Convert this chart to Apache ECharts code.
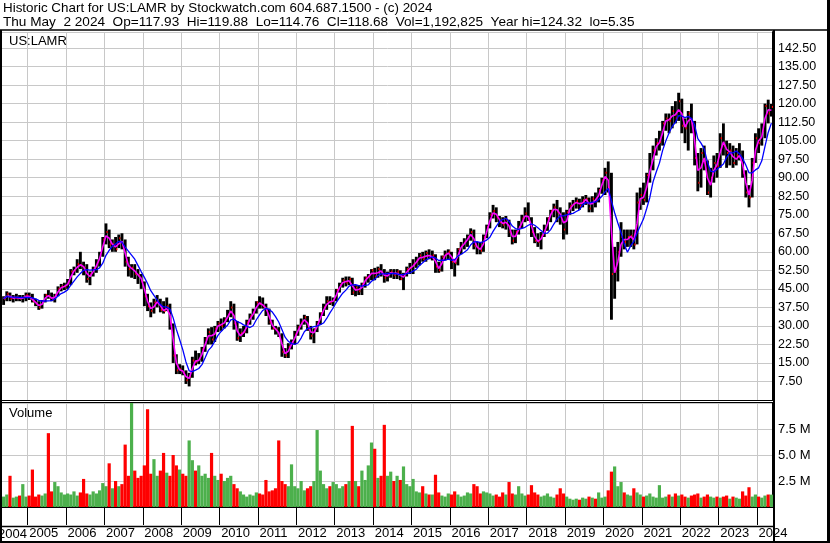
<!DOCTYPE html>
<html>
<head>
<meta charset="utf-8">
<script src="https://cdn.jsdelivr.net/npm/echarts@6/dist/echarts.min.js"></script>
<style>html,body{margin:0;padding:0;background:#fff}#c{width:830px;height:543px}</style>
</head>
<body>
<div id="c"></div>
<script>
// Monthly bars, May 2004 .. May 2024
var startYear = 2004, startMonth = 5;

var low = [
  38.5, 40, 40, 39.5, 40, 40, 39.5, 40,
  40.5, 39.5, 38, 36.5, 37, 39.5, 41, 40, 39.5, 42, 44, 44.5,
  45, 46.5, 50.5, 51.5, 53, 50.5, 47.5, 46.5, 50, 51.5, 54, 58,
  63, 61.5, 60, 60, 61.5, 61, 54, 50, 49.5, 49, 47, 45,
  38, 36, 33.5, 35, 37.5, 35.5, 35, 36, 28.5, 15, 10.5, 10.5,
  10, 6.5, 5.5, 9, 14, 14.5, 15.5, 19.5, 22.5, 22.5, 23.5, 27.5,
  28, 29, 31.5, 33.5, 28.5, 24, 23.5, 25.5, 27, 30.5, 32.5, 35,
  37, 37, 34, 30.5, 28.5, 26.5, 25.5, 17.5, 17, 17, 20.5, 22.5,
  26, 28.5, 30.5, 28, 24.5, 23, 27.5, 30.5, 34, 36.5, 38.5, 38,
  40, 43.5, 45.5, 46, 46.5, 42.5, 42, 42.5, 42.5, 45.5, 47.5, 48.5,
  48.5, 49.5, 50, 47.5, 48, 49.5, 49, 49, 48.5, 44.5, 50, 51,
  51, 53.5, 54.5, 56, 56, 57, 56.5, 51.5, 51.5, 52, 56.5, 57,
  53, 50, 54.5, 59, 61, 62, 64.5, 61, 59, 59, 60, 65.5,
  69.5, 73.5, 72, 70, 69.5, 69, 66, 63, 63.5, 67, 69.5, 72,
  72.5, 66, 63.5, 62, 61, 66, 68.5, 72, 74, 72, 71, 65,
  67, 75, 76.5, 77.5, 77, 78, 79, 76, 76, 78, 80, 83.5,
  83, 84, 32.5, 41, 48, 58, 61, 62, 62, 61, 63, 77,
  79, 80, 88, 93, 99, 101, 103, 109, 108, 110, 112, 113,
  108, 104, 101, 108, 95, 84.5, 86, 93, 83, 82, 88, 90,
  94, 99, 94, 95, 94, 95, 97, 90, 82, 78, 82, 96,
  100, 103, 106, 112, 114.76
];

var high = [
  42, 44, 43.5, 42.5, 43, 42.5, 42.5, 43.5,
  43.5, 43, 41, 40, 40.5, 43, 44.5, 43.5, 43, 46, 47, 47.5,
  49, 53, 54, 57, 60, 56, 55, 52, 54, 57, 60, 66,
  71.5, 69, 65, 66, 67, 67.5, 65, 58, 55, 55, 53, 51,
  48, 43, 39.5, 41, 42.5, 41, 40, 41.5, 39, 31, 18.5, 14.5,
  14, 12, 11, 17.5, 20, 19, 21.5, 25.5, 29, 29.5, 30, 32,
  33, 33.5, 36.5, 40, 39, 32, 29, 30, 32.5, 35, 37, 40,
  42, 41.5, 39, 37, 32.5, 30, 29.5, 27, 21, 23, 24.5, 28,
  30.5, 33, 34.5, 34, 30, 29, 32, 35.5, 39, 42, 42, 41.5,
  45, 47.5, 49.5, 50, 50, 49.5, 46.5, 46.5, 47.5, 50, 51, 53,
  53.5, 54, 55, 53, 52, 53, 53, 53, 52.5, 51.5, 54, 55.5,
  57, 58, 59.5, 60, 60.5, 61, 60.5, 59, 56, 58.5, 60.5, 61,
  60, 57, 61.5, 64, 65.5, 67, 69.5, 69, 64, 64, 67, 71,
  76, 79, 78, 74.5, 74, 74.5, 73, 69, 69, 72.5, 75, 78,
  80, 74, 70, 67.5, 68, 71, 74, 77, 79.5, 81, 78, 76,
  77, 80, 81, 82, 81.5, 82.5, 83, 82, 82.5, 84, 86, 90,
  94, 96.6, 92, 62, 64, 72, 69, 69, 69, 69, 84, 86,
  88, 92, 100, 103, 106, 109, 113, 116, 116, 119, 121, 124.4,
  122, 114, 117, 120, 113, 100, 102, 103, 97, 94, 99, 100,
  108, 112, 105, 104, 103, 102, 104, 101, 93, 87, 98, 108,
  110, 112, 120, 121.6, 119.88
];

var close = [
  41, 43, 41, 41.5, 41.5, 41, 41.5, 42.5,
  41.5, 40, 39, 37.5, 40, 42.5, 42, 40.5, 42.5, 45, 46, 46,
  47.5, 52, 52.5, 55, 54.5, 53.5, 49, 51, 53, 55.5, 59, 65,
  68, 63, 63, 61, 65.5, 63, 56, 53, 53.5, 51, 50.5, 48,
  42, 38, 36, 39.5, 40, 36.5, 36, 38, 31, 18, 12, 12.5,
  11, 8, 9.5, 16, 15.5, 16.5, 20.5, 24.5, 27.5, 24.5, 29, 31,
  30, 32.5, 34.5, 37.5, 31, 25, 27, 27.5, 31.5, 34, 35.5, 39.5,
  39, 38, 36.5, 31.5, 29, 28.5, 26, 19.5, 18, 21.5, 23.5, 26.5,
  29.5, 31.5, 33.5, 29, 26, 28.5, 31, 35, 37.5, 40, 39.5, 40.5,
  44.5, 46.5, 48.5, 47.5, 49, 43.5, 45.5, 44, 47, 49.5, 50, 52.5,
  50, 53, 51.5, 49.5, 51, 52, 50.5, 52, 49, 50.5, 53, 53.5,
  55, 56.5, 58.5, 57, 59.5, 57.5, 58.5, 54, 52.5, 58, 59, 60,
  56, 55.5, 61, 62.5, 64, 66, 68, 62.5, 61.5, 60.5, 66, 70,
  75, 76.5, 74, 72, 71, 73, 68, 64.5, 68, 70, 73.5, 75.5,
  73, 68, 64.5, 64, 66.5, 69, 73.5, 76.5, 78, 76, 74.5, 69,
  76, 78.5, 79.5, 80.5, 78.5, 81, 81.5, 77.5, 81.5, 80.5, 85, 89,
  92, 86, 51, 52, 60, 66, 64, 66, 66.5, 63, 80, 83,
  81, 91, 94, 101, 104, 104.5, 112, 114, 113, 117, 114, 121,
  111, 110, 116, 112, 98, 88, 100, 96, 84, 90, 96, 94.5,
  106, 103, 100, 101, 96, 99, 99, 92, 84, 82, 96, 106,
  104, 109, 119, 116, 118.68
];

// volume, millions of shares
var volume = [
  1.0, 1.2, 3.0, 0.9, 1.0, 1.1, 2.2, 1.0,
  1.1, 3.6, 1.0, 1.2, 1.1, 1.3, 7.1, 1.5, 2.4, 2.0, 1.4, 1.2,
  1.3, 1.2, 1.5, 1.1, 1.4, 2.7, 1.3, 1.2, 1.5, 1.3, 1.6, 2.3,
  2.0, 4.2, 1.8, 2.5, 2.0, 2.2, 6.0, 3.0, 10.0, 3.5, 2.8, 3.0,
  4.0, 9.4, 3.2, 4.6, 3.0, 3.5, 5.2, 3.3, 3.0, 5.0, 4.0, 3.6,
  3.2, 3.0, 6.4, 4.5, 3.5, 4.0, 3.0, 3.2, 2.8, 5.2, 3.0, 2.6,
  3.2, 2.5, 2.8, 3.0, 2.2, 1.8, 1.5, 1.2, 1.0, 1.2, 1.1, 1.4,
  1.3, 1.2, 2.6, 1.5, 1.6, 1.8, 6.4, 2.5, 2.2, 2.0, 4.1, 2.0,
  1.8, 2.5, 1.6, 1.8, 2.0, 2.5, 7.4, 3.5, 2.2, 1.8, 2.0, 2.4,
  2.2, 1.8, 2.0, 2.2, 2.5, 7.8, 2.5, 2.0, 3.5, 2.6, 4.0, 6.2,
  5.6, 2.8, 3.0, 7.9, 3.0, 3.4, 2.5, 3.0, 2.6, 3.9, 2.2, 2.0,
  2.7, 1.5, 1.4, 2.0, 1.3, 1.2, 1.2, 3.1, 1.4, 1.1, 1.0, 1.3,
  1.2, 1.5, 1.2, 1.0, 1.1, 1.4, 1.3, 2.2, 2.0, 1.3, 1.5, 1.4,
  1.3, 1.1, 1.2, 1.0, 1.4, 1.2, 2.4, 1.3, 1.2, 2.0, 1.3, 1.1,
  1.2, 2.1, 1.4, 1.2, 1.0, 1.1, 1.3, 1.0, 0.9, 1.2, 1.8, 1.3,
  1.0, 0.8, 0.7, 0.8, 0.7, 0.9, 0.8, 1.0, 0.9, 0.8, 1.4, 0.9,
  1.0, 1.6, 3.4, 3.9, 2.0, 2.4, 1.4, 1.2, 1.1, 1.8, 1.4, 1.2,
  1.0, 1.1, 1.3, 1.0, 0.9, 2.1, 0.9, 1.0, 1.2, 1.0, 1.3, 1.1,
  1.2, 1.0, 0.9, 1.1, 1.2, 1.3, 0.9, 1.0, 1.2, 1.0, 0.9, 1.0,
  0.9, 1.0, 1.1, 0.8, 1.0, 0.9, 0.8, 1.5, 1.1, 1.9, 1.0, 1.2,
  1.0, 0.9, 1.1, 1.2, 1.19
];

var headerLine1 = 'Historic Chart for US:LAMR by Stockwatch.com 604.687.1500 - (c) 2024';
var headerLine2 = 'Thu May  2 2024  Op=117.93  Hi=119.88  Lo=114.76  Cl=118.68  Vol=1,192,825  Year hi=124.32  lo=5.35';
var symbolLabel = 'US:LAMR';
var volumeLabel = 'Volume';
var firstYearLabel = '2004';

// ---- build ----
var months = [];
for (var i = 0; i < close.length; i++) {
  var m = startMonth - 1 + i;
  var mm = (m % 12) + 1;
  months.push((startYear + Math.floor(m / 12)) + '-' + (mm < 10 ? '0' + mm : '' + mm));
}
function isJan(idx) { return months[idx] && months[idx].slice(5) === '01'; }

function sma(n) {
  var out = [];
  for (var i = 0; i < close.length; i++) {
    var s = 0, c = 0;
    for (var k = Math.max(0, i - n + 1); k <= i; k++) { s += close[k]; c++; }
    out.push(+(s / c).toFixed(3));
  }
  return out;
}
var maFast = sma(2), maSlow = sma(6);

var bars = [];
for (var i = 0; i < close.length; i++) bars.push([i, low[i], high[i], close[i]]);

var volData = [];
for (var i = 0; i < volume.length; i++) {
  var up = i === 0 ? true : close[i] >= close[i - 1];
  volData.push({ value: volume[i], itemStyle: { color: up ? '#4cb04c' : '#ff0000' } });
}

var FONT = '"Liberation Sans", Arial, sans-serif';
var GRID = '#c8c8c8';

var chart = echarts.init(document.getElementById('c'), null, { renderer: 'canvas', width: 830, height: 543 });

var option = {
  animation: false,
  backgroundColor: '#ffffff',
  grid: [
    { left: 2, top: 32, width: 771, height: 368, outerBoundsMode: 'none', containLabel: false },
    { left: 2, top: 403, width: 771, height: 104, outerBoundsMode: 'none', containLabel: false }
  ],
  xAxis: [
    {
      type: 'category', gridIndex: 0, data: months, boundaryGap: true,
      axisLine: { show: false }, axisTick: { show: false }, axisLabel: { show: false },
      splitLine: { show: true, interval: function (i) { return isJan(i); }, lineStyle: { color: GRID, width: 1 } }
    },
    {
      type: 'category', gridIndex: 1, data: months, boundaryGap: true,
      axisLine: { show: true, onZero: false, lineStyle: { color: '#000', width: 2 } },
      axisTick: { show: true, interval: function (i) { return isJan(i); }, length: 18, lineStyle: { color: '#000', width: 1 } },
      axisLabel: {
        show: true, interval: function (i) { return isJan(i); },
        formatter: function (v) { return v.slice(0, 4); },
        align: 'left', margin: 20, color: '#000', fontSize: 13, fontFamily: FONT
      },
      splitLine: { show: true, interval: function (i) { return isJan(i); }, lineStyle: { color: GRID, width: 1 } }
    }
  ],
  yAxis: [
    {
      type: 'value', gridIndex: 0, position: 'right', min: 0, max: 149, interval: 7.5,
      axisLine: { show: true, lineStyle: { color: '#000', width: 2 } },
      axisTick: { show: false },
      axisLabel: {
        formatter: function (v) { return v.toFixed(2); }, color: '#000', fontSize: 12.5, fontFamily: FONT,
        margin: 5, showMinLabel: false, showMaxLabel: false
      },
      splitLine: { show: true, lineStyle: { color: GRID, width: 1 } }
    },
    {
      type: 'value', gridIndex: 1, position: 'right', min: 0, max: 10, interval: 2.5,
      axisLine: { show: true, lineStyle: { color: '#000', width: 2 } },
      axisTick: { show: false },
      axisLabel: {
        formatter: function (v) { return v.toFixed(1) + ' M'; }, color: '#000', fontSize: 13, fontFamily: FONT,
        margin: 5, showMinLabel: false, showMaxLabel: false
      },
      splitLine: { show: true, lineStyle: { color: GRID, width: 1 } }
    }
  ],
  series: [
    {
      type: 'custom', name: 'price', xAxisIndex: 0, yAxisIndex: 0, data: bars, z: 2, silent: true,
      encode: { x: 0, y: [1, 2, 3] },
      renderItem: function (params, api) {
        var idx = api.value(0);
        var hi = api.coord([idx, api.value(2)]);
        var lo = api.coord([idx, api.value(1)]);
        var cl = api.coord([idx, api.value(3)]);
        var w = api.size([1, 0])[0];
        return {
          type: 'group',
          children: [
            { type: 'rect', shape: { x: hi[0] - w * 0.45, y: hi[1], width: w * 0.9, height: Math.max(1, lo[1] - hi[1]) }, style: { fill: '#000' } },
            { type: 'rect', shape: { x: cl[0] + w * 0.15, y: cl[1] - 1, width: w * 0.45, height: 2 }, style: { fill: '#ff0000' } }
          ]
        };
      }
    },
    {
      type: 'line', name: 'ma fast', xAxisIndex: 0, yAxisIndex: 0, data: maFast, symbol: 'none', z: 3, silent: true,
      lineStyle: { color: '#ff00ff', width: 1.6 }
    },
    {
      type: 'line', name: 'ma slow', xAxisIndex: 0, yAxisIndex: 0, data: maSlow, symbol: 'none', z: 4, silent: true,
      lineStyle: { color: '#0000ff', width: 1.3 }
    },
    {
      type: 'bar', name: 'volume', xAxisIndex: 1, yAxisIndex: 1, data: volData, barCategoryGap: '0%', z: 2, silent: true
    }
  ],
  graphic: {
    elements: [
      { type: 'text', x: 3, y: 8, z: 100, style: { text: headerLine1, fontSize: 13.4, fontFamily: FONT, fill: '#000', verticalAlign: 'middle' } },
      { type: 'text', x: 3, y: 22, z: 100, style: { text: headerLine2, fontSize: 13.6, fontFamily: FONT, fill: '#000', verticalAlign: 'middle' } },
      { type: 'text', x: 9, y: 41.5, z: 100, style: { text: symbolLabel, fontSize: 13, fontFamily: FONT, fill: '#000', verticalAlign: 'middle' } },
      { type: 'text', x: 9, y: 413, z: 100, style: { text: volumeLabel, fontSize: 13, fontFamily: FONT, fill: '#000', verticalAlign: 'middle' } },
      { type: 'text', x: -2, y: 534, z: 100, style: { text: firstYearLabel, fontSize: 13, fontFamily: FONT, fill: '#000', verticalAlign: 'middle' } },
      { type: 'line', z: 100, shape: { x1: 0, y1: 30, x2: 830, y2: 30 }, style: { stroke: '#000', lineWidth: 1.5 } },
      { type: 'line', z: 100, shape: { x1: 0, y1: 400.5, x2: 774, y2: 400.5 }, style: { stroke: '#000', lineWidth: 1 } },
      { type: 'line', z: 100, shape: { x1: 0, y1: 402.5, x2: 774, y2: 402.5 }, style: { stroke: '#000', lineWidth: 1 } },
      { type: 'line', z: 100, shape: { x1: 0, y1: 526.5, x2: 774, y2: 526.5 }, style: { stroke: '#000', lineWidth: 1.5 } },
      { type: 'line', z: 100, shape: { x1: 0, y1: 542, x2: 830, y2: 542 }, style: { stroke: '#000', lineWidth: 2 } },
      { type: 'line', z: 100, shape: { x1: 1, y1: 30, x2: 1, y2: 543 }, style: { stroke: '#000', lineWidth: 2 } },
      { type: 'line', z: 100, shape: { x1: 774, y1: 30, x2: 774, y2: 543 }, style: { stroke: '#000', lineWidth: 2 } },
      { type: 'line', z: 100, shape: { x1: 828.5, y1: 0, x2: 828.5, y2: 543 }, style: { stroke: '#000', lineWidth: 3 } }
    ]
  }
};
chart.setOption(option);
</script>
</body>
</html>
